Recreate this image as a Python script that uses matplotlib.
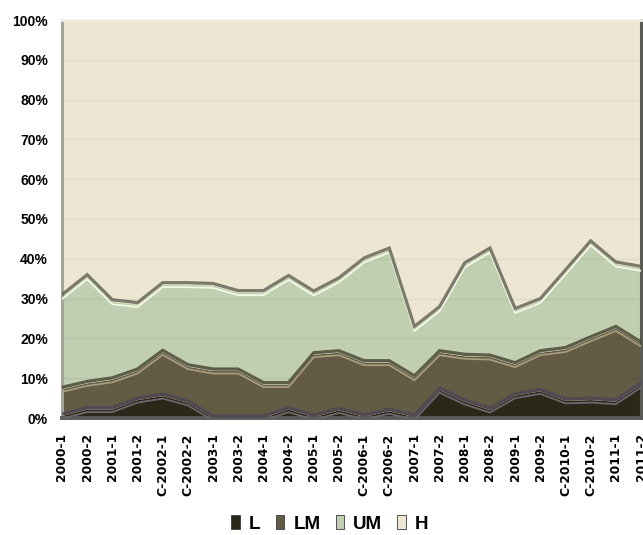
import numpy as np
import matplotlib
matplotlib.use("Agg")
import matplotlib.pyplot as plt
from matplotlib.transforms import offset_copy
from matplotlib.patches import Patch
from matplotlib import font_manager as fm

categories = ["2000-1", "2000-2", "2001-1", "2001-2", "C-2002-1", "C-2002-2",
              "2003-1", "2003-2", "2004-1", "2004-2", "2005-1", "2005-2",
              "C-2006-1", "C-2006-2", "2007-1", "2007-2", "2008-1", "2008-2",
              "2009-1", "2009-2", "C-2010-1", "C-2010-2", "2011-1", "2011-2"]
series_names = ["L", "LM", "UM", "H"]
L = [0.5, 2.1, 2.1, 4.5, 5.5, 3.8, 0.0, 0.0, 0.0, 2.1, 0.2, 1.9,
     0.3, 1.7, 0.2, 7.0, 4.0, 2.0, 5.6, 6.7, 4.3, 4.5, 4.1, 8.3]
LM = [6.7, 6.6, 7.5, 7.3, 11.0, 9.1, 11.8, 11.8, 8.4, 6.3, 15.7, 14.5,
      13.6, 12.2, 9.9, 9.4, 11.5, 13.3, 7.8, 9.7, 12.9, 15.4, 18.4, 10.3]
UM = [23.3, 26.8, 19.6, 16.7, 17.0, 20.6, 21.5, 19.7, 23.1, 26.9, 15.5, 18.3,
      25.8, 28.3, 12.4, 11.1, 23.0, 26.9, 13.6, 13.1, 19.5, 24.1, 16.2, 19.0]
H = [69.5, 64.5, 70.8, 71.5, 66.5, 66.5, 66.7, 68.5, 68.5, 64.7, 68.6, 65.3,
     60.3, 57.8, 77.5, 72.5, 61.5, 57.8, 73.0, 70.5, 63.3, 56.0, 61.3, 62.4]
y_ticks = [0, 10, 20, 30, 40, 50, 60, 70, 80, 90, 100]

colors = ["#2b2719", "#645b45", "#bfcfb0", "#ede6d2"]
shadow_cols = ["#4d4556", "#45412f", "#5f5f52"]
light_cols = ["#6e6670", "#a89c7c", "#f4f8e6"]

names_avail = {f.name for f in fm.fontManager.ttflist}
leg_family = "Liberation Sans Narrow" if "Liberation Sans Narrow" in names_avail else "Liberation Sans"
leg_size = 16 if leg_family == "Liberation Sans Narrow" else 13.5

fig = plt.figure(figsize=(6.43, 5.35), dpi=100)
ax = fig.add_axes([62 / 643, 117 / 535, 579 / 643, 398 / 535])

x = np.arange(len(categories))
data = np.array([L, LM, UM, H], dtype=float)
pct = data / data.sum(axis=0) * 100
cum = np.cumsum(pct, axis=0)

ax.stackplot(x, pct, colors=colors, labels=series_names, linewidth=0, zorder=1)

up = offset_copy(ax.transData, fig=fig, x=0, y=2, units="dots")
down = offset_copy(ax.transData, fig=fig, x=0, y=-2.5, units="dots")
for k in range(3):
    ax.plot(x, cum[k], color=light_cols[k], lw=1.3, transform=down, zorder=3,
            solid_joinstyle="miter")
    ax.plot(x, cum[k], color=shadow_cols[k], lw=2.3, alpha=0.8, transform=up,
            zorder=4, solid_joinstyle="miter")

ax.set_xlim(x[0], x[-1])
ax.set_ylim(0, 100)
ax.set_yticks(y_ticks)
ax.set_yticklabels([f"{v}%" for v in y_ticks], fontfamily="Liberation Sans",
                   fontweight="bold", fontsize=10)
ax.set_xticks(x)
ax.set_xticklabels(categories, rotation=90, fontfamily="DejaVu Sans",
                   fontweight="bold", fontsize=8.8)
ax.set_xticks(x[::2], minor=True)
ax.tick_params(which="both", length=0)
ax.tick_params(axis="y", pad=10)
ax.tick_params(axis="x", pad=11)

ax.grid(axis="y", which="major", color="#000000", alpha=0.05, lw=1.0, zorder=2)
ax.grid(axis="x", which="minor", color="#000000", alpha=0.04, lw=1.0, zorder=2)
ax.grid(axis="x", which="major", visible=False)
ax.set_axisbelow(False)

ax.spines["left"].set_color("#a5a49a")
ax.spines["left"].set_linewidth(2.2)
ax.spines["bottom"].set_color("#5a5a58")
ax.spines["bottom"].set_linewidth(2.8)
ax.spines["top"].set_color("#f7f4ea")
ax.spines["top"].set_linewidth(2.0)
ax.spines["right"].set_color("#5b5b55")
ax.spines["right"].set_linewidth(2.2)

handles = [Patch(facecolor=c, edgecolor="#3a3a3a", linewidth=0.6) for c in colors]
fig.legend(handles, series_names, ncol=4, loc="center",
           bbox_to_anchor=(330 / 643, 1 - 524 / 535), frameon=False,
           prop={"family": leg_family, "weight": "bold", "size": leg_size},
           handlelength=0.45, handleheight=0.7, handletextpad=0.5,
           columnspacing=0.8)

fig.savefig("out.png", dpi=100)
